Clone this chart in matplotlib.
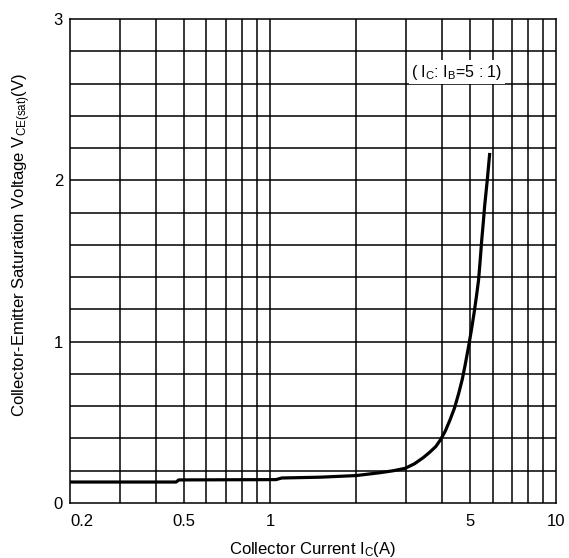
import numpy as np
import matplotlib
matplotlib.use('Agg')
import matplotlib.pyplot as plt
from matplotlib.ticker import FixedLocator, NullFormatter, NullLocator

plt.rcParams['font.family'] = ['Liberation Sans', 'DejaVu Sans']
plt.rcParams['mathtext.fontset'] = 'custom'
plt.rcParams['mathtext.rm'] = 'Liberation Sans'

# curve: Ic (A) vs VCE(sat) (V)
ic = [0.2, 0.47, 0.48, 1.05, 1.1, 1.5, 2.0, 2.43, 2.7, 2.97, 3.2, 3.44, 3.62,
      3.8, 3.94, 4.1, 4.26, 4.42, 4.57, 4.7, 4.8, 4.9, 4.97, 5.07, 5.17, 5.27,
      5.36, 5.43, 5.5, 5.57, 5.63, 5.75, 5.86]
vce = [0.13, 0.13, 0.143, 0.145, 0.155, 0.16, 0.17, 0.188, 0.2, 0.215, 0.243,
       0.282, 0.315, 0.35, 0.39, 0.445, 0.515, 0.59, 0.68, 0.765, 0.845, 0.93,
       0.99, 1.08, 1.176, 1.28, 1.38, 1.5, 1.63, 1.74, 1.84, 2.0, 2.16]

x_grid = [0.3, 0.4, 0.5, 0.6, 0.7, 0.8, 0.9, 1, 2, 3, 4, 5, 6, 7, 8, 9]
x_ticks = [0.2, 0.5, 1, 5, 10]
x_labels = ['0.2', '0.5', '1', '5', '10']
y_ticks = [0, 1, 2, 3]
y_labels = ['0', '1', '2', '3']

fig = plt.figure(figsize=(5.69, 5.58), dpi=100)
ax = fig.add_axes([70/569, 1-503/558, 486/569, 484/558])

ax.set_xscale('log')
ax.set_xlim(0.2, 10)
ax.set_ylim(0, 3)

for x in x_grid:
    ax.axvline(x, color='black', lw=1.1, zorder=1)
for y in np.arange(0.2, 3.0, 0.2):
    ax.axhline(y, color='black', lw=1.1, zorder=1)

ax.plot(ic, vce, color='black', lw=2.3, zorder=3, solid_joinstyle='round')

ax.xaxis.set_major_locator(FixedLocator(x_ticks))
ax.xaxis.set_minor_locator(NullLocator())
ax.xaxis.set_minor_formatter(NullFormatter())
ax.set_xticks(x_ticks)
ax.set_xticklabels(x_labels)
ax.set_yticks(y_ticks)
ax.set_yticklabels(y_labels)
ax.tick_params(length=0, labelsize=12, pad=8)
ax.tick_params(axis='y', pad=5)
ax.get_xticklabels()[0].set_horizontalalignment('left')

for s in ax.spines.values():
    s.set_linewidth(1.1)

ax.text(4.5, 2.67, r'( I$\mathregular{_C}$: I$\mathregular{_B}$=5 : 1)', fontsize=11.5,
        ha='center', va='center', zorder=4,
        bbox=dict(facecolor='white', edgecolor='none', pad=2))

ax.set_xlabel(r'Collector Current I$\mathregular{_C}$(A)', fontsize=12, labelpad=8)
ax.set_ylabel(r'Collector-Emitter Saturation Voltage V$\mathregular{_{CE(sat)}}$(V)',
              fontsize=12)
ax.yaxis.set_label_coords(-0.077, 0.533)

fig.savefig('out.png', dpi=100)
